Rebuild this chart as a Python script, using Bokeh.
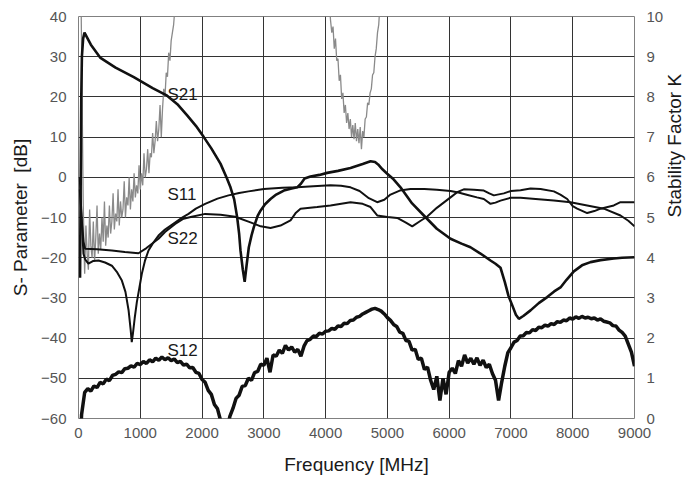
import math
from bokeh.plotting import figure
from bokeh.models import Range1d, LinearAxis, FixedTicker, Label
from bokeh.embed import file_html
from bokeh.resources import INLINE

# ---------------- data ----------------
x_ticks = [0, 1000, 2000, 3000, 4000, 5000, 6000, 7000, 8000, 9000]
db_ticks = [-60, -50, -40, -30, -20, -10, 0, 10, 20, 30, 40]
k_ticks = [0, 1, 2, 3, 4, 5, 6, 7, 8, 9, 10]

f_s21 = [25, 45, 55, 75, 97, 200, 356, 600, 895, 1200, 1435, 1600, 1759, 1900, 2028, 2150,
         2298, 2400, 2460, 2520, 2568, 2600, 2622, 2660, 2690, 2720, 2757, 2800, 2838, 2900,
         2946, 3020, 3108, 3200, 3324, 3450, 3540, 3600, 3660, 3755, 3900, 4025, 4200, 4403,
         4600, 4727, 4800, 4850, 4920, 4997, 5100, 5212, 5400, 5590, 5800, 6022, 6200, 6345,
         6500, 6669, 6750, 6831, 6900, 6960, 7020, 7080, 7128, 7200, 7317, 7450, 7587, 7700,
         7802, 7900, 8018, 8150, 8288, 8450, 8665, 8800, 9000]
s21 = [-25, 20, 30, 34.5, 36, 33, 29.7, 27.3, 24.9, 22.2, 20.3, 18.2, 15.4, 12.8, 10.0, 7.2,
       3.4, -0.2, -2.5, -5.5, -9.9, -14, -18.2, -23, -26, -22, -17.4, -14.5, -12.4, -9.6,
       -8.3, -6.7, -5.4, -4.3, -3.3, -2.8, -2.5, -1.6, -0.3, 0.2, 0.6, 1.1, 1.6, 2.3,
       3.3, 4.0, 3.8, 3.2, 2.0, 0.9, -0.5, -2.5, -6.5, -9.5, -12.8, -15.3, -16.5, -17.4,
       -18.9, -20.7, -21.5, -22.5, -26, -29.5, -31.8, -34.2, -35.2, -34.5, -33.1, -31.3, -29.8, -28.4,
       -27.4, -25.5, -23.4, -21.9, -21.1, -20.6, -20.2, -20.0, -19.9]

f_s11 = [20, 50, 80, 110, 160, 240, 324, 430, 540, 620, 702, 760, 810, 845, 862, 880, 910, 945,
         985, 1025, 1075, 1133, 1200, 1295, 1400, 1511, 1650, 1781, 1900, 2050, 2250, 2428,
         2600, 2752, 3000, 3300, 3540, 3800, 4079, 4250, 4403, 4550, 4700, 4835, 4950, 5050,
         5200, 5375, 5600, 5800, 6022, 6150, 6300, 6450, 6561, 6669, 6750, 6831, 6993, 7155,
         7400, 7695, 7964, 8234, 8504, 8773, 8900, 9000]
s11 = [0, -10, -19, -20.5, -21.5, -20.8, -20.7, -21.2, -22, -23.5, -25.7, -28.5, -33, -38, -41, -39, -35, -31,
       -27.5, -24, -20.8, -18.2, -16.5, -14.5, -13, -11.8, -10.3, -9.1, -7.8, -6.6, -5.3, -4.5,
       -3.9, -3.5, -2.9, -2.6, -2.5, -2.2, -2.0, -2.1, -2.5, -3.4, -5.2, -6.2, -5.6, -4.3,
       -3.3, -2.9, -2.9, -3.1, -3.4, -3.8, -4.4, -5.0, -5.4, -6.6, -6.3, -5.8, -5.1, -5.1,
       -5.4, -5.8, -6.2, -7.0, -7.8, -9.5, -10.8, -12.2]

f_s22 = [20, 50, 80, 108, 300, 540, 750, 971, 1100, 1200, 1295, 1400, 1565, 1700, 1834, 2050,
         2300, 2536, 2784, 2950, 3108, 3270, 3432, 3520, 3594, 3863, 4079, 4403, 4600, 4727,
         4835, 5000, 5159, 5300, 5402, 5520, 5645, 5800, 6022, 6130, 6237, 6400, 6561, 6650,
         6723, 6885, 7000, 7155, 7317, 7479, 7695, 7800, 7911, 8000, 8072, 8234, 8350, 8450,
         8665, 8773, 9000]
s22 = [-3, -10, -16, -17.8, -17.9, -18.2, -18.6, -18.9, -17.6, -16.4, -15.3, -13.6, -11.6, -10.3, -9.8, -9.1,
       -9.3, -9.8, -11.2, -12.2, -12.6, -12.0, -10.7, -8.8, -7.8, -7.4, -7.0, -6.2, -6.6, -7.4,
       -9.5, -9.9, -10.1, -11.3, -12.2, -11.0, -9.75, -7.6, -5.0, -3.7, -3.0, -3.1, -3.3, -4.0,
       -4.5, -4.0, -3.4, -3.2, -2.8, -2.9, -3.5, -4.3, -5.4, -7.2, -7.8, -8.9, -8.4, -7.8,
       -7.0, -6.2, -6.2]

f_s12 = [30] + list(range(50, 9001, 50))
s12 = [-66.0,
       -59.0, -53.5, -52.6, -53.2, -51.9, -52.3, -51.0, -51.4, -50.2, -50.6,
       -49.3, -49.0, -48.4, -48.6, -47.6, -47.5, -46.9, -47.2, -46.3, -46.6,
       -45.8, -46.3, -45.4, -45.9, -45.0, -45.5, -44.7, -45.4, -44.9, -45.6,
       -45.2, -46.1, -45.8, -46.7, -46.5, -47.4, -47.3, -48.5, -48.8, -50.3,
       -51.0, -53.0, -54.0, -56.5, -57.6, -60.5, -62.5, -63.0, -59.5, -57.5,
       -55.0, -54.2, -52.0, -51.8, -50.0, -50.5, -48.6, -48.3, -46.5, -46.8,
       -45.0, -48.5, -44.2, -44.5, -43.0, -43.8, -41.8, -43.0, -42.2, -43.5,
       -42.8, -44.5, -42.0, -40.6, -40.3, -39.5, -39.6, -38.8, -39.0, -38.3,
       -38.2, -37.6, -37.8, -37.0, -37.1, -36.3, -36.4, -35.6, -35.5, -34.8,
       -34.6, -34.0, -33.6, -33.2, -32.8, -32.6, -32.9, -33.3, -34.0, -34.9,
       -35.6, -36.6, -37.1, -38.5, -38.8, -40.6, -40.8, -43.0, -42.8, -45.3,
       -45.0, -47.8, -47.2, -50.5, -52.8, -49.5, -55.5, -50.0, -54.0, -48.5,
       -47.5, -48.8, -45.6, -47.0, -44.2, -46.2, -45.0, -46.5, -44.9, -46.8,
       -45.5, -47.3, -46.5, -48.8, -50.5, -55.5, -51.0, -47.0, -43.6, -42.4,
       -41.0, -40.6, -39.5, -39.4, -38.6, -38.7, -37.9, -38.1, -37.3, -37.4,
       -36.8, -37.0, -36.4, -36.6, -35.9, -36.1, -35.5, -35.7, -35.0, -35.3,
       -34.7, -35.1, -34.6, -35.0, -34.8, -35.2, -35.0, -35.5, -35.2, -35.8,
       -36.0, -36.2, -36.9, -37.0, -38.0, -38.6, -39.5, -41.5, -43.5, -47.0]

# stability factor K (right axis), two visible pieces
f_k1 = [30, 55, 75, 90] + list(range(100, 1581, 20))
k1 = [12.0, 8.5, 5.5, 4.2,
      3.6, 4.8, 4.1, 3.7, 5.2, 4.3, 4.0, 4.9, 3.9, 4.5,
      5.3, 4.1, 4.6, 4.2, 5.0, 4.4, 5.4, 4.3, 4.8, 4.5,
      5.3, 4.6, 4.9, 5.6, 4.7, 5.1, 4.9, 5.7, 4.8, 5.4,
      5.0, 5.2, 5.9, 5.0, 5.5, 5.3, 6.0, 5.2, 5.7, 5.4,
      6.1, 5.5, 5.8, 5.6, 6.3, 5.7, 6.1, 5.8, 6.6, 6.0,
      6.2, 6.7, 6.1, 6.6, 6.5, 7.1, 6.6, 6.9, 7.4, 6.9,
      7.2, 7.8, 7.0, 7.7, 8.2, 8.0, 8.6, 8.5, 9.1, 8.9,
      9.4, 9.6, 9.8, 10.2, 10.6]
f_k2 = list(range(4060, 4881, 20))
k2 = [10.3, 9.9, 9.6, 9.75, 9.2, 9.45, 8.9, 8.95, 8.4, 8.55,
      7.95, 8.1, 7.6, 7.8, 7.35, 7.6, 7.2, 7.45, 7.0, 7.3,
      6.95, 7.35, 6.9, 7.2, 6.85, 7.25, 6.7, 7.15, 7.0, 7.45,
      7.5, 7.85, 7.8, 8.1, 8.2, 8.55, 8.6, 9.0, 9.2, 9.6,
      9.8, 10.3]

labels = ["S21", "S11", "S22", "S12"]
label_x = [1441, 1441, 1441, 1441]
label_y = [20.7, -4.2, -15.3, -43.0]

# ---------------- figure ----------------
FONT = "Liberation Sans"
p = figure(width=698, height=480, x_range=Range1d(0, 9000), y_range=Range1d(-60, 40),
           output_backend="svg", toolbar_location=None,
           min_border_left=78, min_border_right=64, min_border_top=16, min_border_bottom=62)
p.extra_y_ranges = {"k": Range1d(0, 10)}
p.background_fill_color = "white"
p.border_fill_color = "white"
p.outline_line_color = "#808080"
p.outline_line_width = 1

k_axis = LinearAxis(y_range_name="k")
p.add_layout(k_axis, "right")

p.xaxis.ticker = FixedTicker(ticks=x_ticks)
p.yaxis[0].ticker = FixedTicker(ticks=db_ticks)
k_axis.ticker = FixedTicker(ticks=k_ticks)

p.xaxis.axis_label = "Frequency [MHz]"
p.yaxis[0].axis_label = "S- Parameter\u00a0 [dB]"
k_axis.axis_label = "Stability Factor K"

for ax in [p.xaxis[0], p.yaxis[0], k_axis]:
    ax.major_tick_line_color = None
    ax.minor_tick_line_color = None
    ax.axis_line_color = None
    ax.major_label_text_font = FONT
    ax.major_label_text_font_size = "15px"
    ax.major_label_text_color = "#555555"
    ax.axis_label_text_font = FONT
    ax.axis_label_text_font_size = "19px"
    ax.axis_label_text_font_style = "normal"
    ax.axis_label_text_color = "#1a1a1a"

p.xaxis[0].major_label_standoff = 3
p.xaxis[0].axis_label_standoff = 13
p.yaxis[0].major_label_standoff = 6
p.yaxis[0].axis_label_standoff = 7
k_axis.major_label_standoff = 6
k_axis.axis_label_standoff = 8
try:
    k_axis.axis_label_orientation = math.pi / 2
except Exception:
    pass

p.grid.grid_line_color = "#333333"
p.grid.grid_line_width = 1

# curves
p.line(f_k1, k1, y_range_name="k", line_color="#8a8a8a", line_width=1.3)
p.line(f_k2, k2, y_range_name="k", line_color="#8a8a8a", line_width=1.3)
p.line(f_s22, s22, line_color="#111111", line_width=2)
p.line(f_s11, s11, line_color="#111111", line_width=2)
p.line(f_s21, s21, line_color="#111111", line_width=2.6)
p.line(f_s12, s12, line_color="#111111", line_width=3.5)

for t, lx, ly in zip(labels, label_x, label_y):
    p.add_layout(Label(x=lx, y=ly, text=t, text_baseline="middle", text_align="left",
                       text_font=FONT, text_font_size="17px", text_color="#1a1a1a"))

open("out.html", "w").write(file_html(p, INLINE))
